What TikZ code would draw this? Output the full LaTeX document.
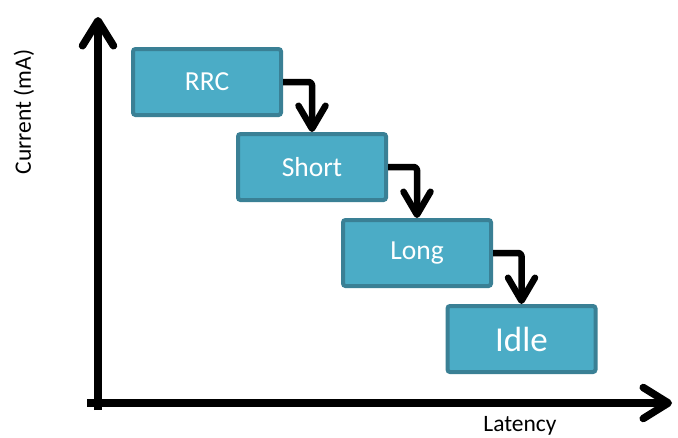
\documentclass[tikz,border=0pt]{standalone}
\usepackage{fontspec}
\setmainfont{Carlito}
\usetikzlibrary{arrows.meta}
\definecolor{boxfill}{HTML}{4BACC6}
\definecolor{boxline}{HTML}{3A8095}
\tikzset{
  statebox/.style={draw=boxline, fill=boxfill, line width=4pt, rounded corners=2.5pt,
    minimum width=148pt, minimum height=66pt, text=white, inner sep=0pt,
    font=\fontsize{27.5}{30}\selectfont},
  axisline/.style={line width=7.5pt, line cap=butt,
    -{Straight Barb[length=25pt,width=31pt,round]}},
  flowarrow/.style={line width=6.5pt, rounded corners=3pt, line join=round,
    -{Straight Barb[length=23pt,width=27pt,round]}},
  axislabel/.style={font=\fontsize{23.5}{26}\selectfont, inner sep=0pt}
}
\begin{document}
\begin{tikzpicture}[x=1pt,y=-1pt]
\useasboundingbox[fill=white] (0,0) rectangle (678,437);
\coordinate (ybot) at (98,410);
\coordinate (ytop) at (98,17);
\coordinate (xleft) at (87,403);
\coordinate (xright) at (672,403);
\draw[axisline] (ybot) -- (ytop);
\draw[axisline] (xleft) -- (xright);
\node[statebox] (rrc) at (207,82) {RRC};
\node[statebox] (short) at (312,167) {Short};
\node[statebox] (long) at (417,253) {Long};
\node[statebox, font=\fontsize{35}{38}\selectfont] (idle) at (521.5,339) {Idle};
\draw[flowarrow] (rrc.east) -| (short.north);
\draw[flowarrow] (short.east) -| (long.north);
\draw[flowarrow] (long.east) -| (idle.north);
\node[axislabel, rotate=90] (ylab) at (24,112) {Current (mA)};
\node[axislabel, anchor=base] (xlab) at (520,431) {Latency};
\end{tikzpicture}
\end{document}
